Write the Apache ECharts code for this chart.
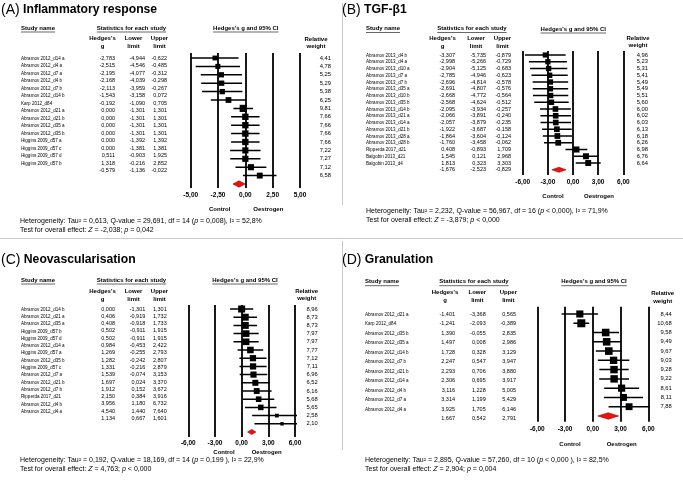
<!DOCTYPE html>
<html><head><meta charset="utf-8">
<script src="https://cdn.jsdelivr.net/npm/echarts@6/dist/echarts.min.js"></script>
<style>html,body{margin:0;padding:0;background:#fff}#c{width:683px;height:480px}</style>
</head><body><div id="c"></div>
<script>
// ---------- DATA ----------
const A_names = ['Abramov 2012_d14 a','Abramov 2012_d4 a','Abramov 2012_d7 a','Abramov 2012_d4 b','Abramov 2012_d7 b','Abramov 2012_d14 b','Karp 2012_d84','Abramov 2012_d21 a','Abramov 2012_d21 b','Abramov 2012_d35 a','Abramov 2012_d35 b','Higgins 2009_d57 a','Higgins 2009_d57 c','Higgins 2009_d57 d','Higgins 2009_d57 b'];
const A_g      = [-2.783,-2.515,-2.195,-2.168,-2.113,-1.543,-0.192,0,0,0,0,0,0,0.511,1.318];
const A_lower  = [-4.944,-4.546,-4.077,-4.039,-3.959,-3.158,-1.090,-1.301,-1.301,-1.301,-1.301,-1.392,-1.381,-0.903,-0.216];
const A_upper  = [-0.622,-0.485,-0.312,-0.298,-0.267,0.072,0.705,1.301,1.301,1.301,1.301,1.392,1.381,1.925,2.852];
const A_weight = [4.41,4.78,5.25,5.29,5.38,6.25,9.81,7.66,7.66,7.66,7.66,7.22,7.27,7.12,6.58];
const A_pooled = [-0.579,-1.136,-0.022];
const A_ticks  = [-5,-2.5,0,2.5,5];
const A_het  = 'Heterogeneity: Tau² = 0,613, Q-value = 29,691, df = 14 ({i|p} = 0,008), I² = 52,8%';
const A_test = 'Test for overall effect: {i|Z} = -2,038; {i|p} = 0,042';

const B_names = ['Abramov 2013_d4 b','Abramov 2013_d4 a','Abramov 2013_d10 a','Abramov 2013_d7 a','Abramov 2013_d7 b','Abramov 2013_d35 a','Abramov 2013_d10 b','Abramov 2013_d35 b','Abramov 2013_d14 b','Abramov 2013_d21 a','Abramov 2013_d14 a','Abramov 2013_d21 b','Abramov 2013_d28 a','Abramov 2013_d28 b','Ripperda 2017_d21','Balgobin 2013_d21','Balgobin 2013_d4'];
const B_g      = [-3.307,-2.998,-2.904,-2.785,-2.696,-2.691,-2.668,-2.568,-2.095,-2.066,-2.057,-1.922,-1.864,-1.760,0.408,1.545,1.813];
const B_lower  = [-5.735,-5.266,-5.125,-4.946,-4.814,-4.807,-4.772,-4.624,-3.934,-3.891,-3.879,-3.687,-3.604,-3.458,-0.893,0.121,0.323];
const B_upper  = [-0.879,-0.729,-0.683,-0.623,-0.578,-0.576,-0.564,-0.512,-0.257,-0.240,-0.235,-0.158,-0.124,-0.062,1.709,2.968,3.303];
const B_weight = [4.96,5.23,5.31,5.41,5.49,5.49,5.51,5.60,6.00,6.02,6.03,6.13,6.18,6.26,6.98,6.76,6.64];
const B_pooled = [-1.676,-2.523,-0.829];
const B_ticks  = [-6,-3,0,3,6];
const B_het  = 'Heterogeneity: Tau² = 2,232, Q-value = 56,967, df = 16 ({i|p} < 0,000), I² = 71,9%';
const B_test = 'Test for overall effect: {i|Z} = -3,879; {i|p} < 0,000';

const C_names = ['Abramov 2012_d14 b','Abramov 2012_d21 a','Abramov 2012_d35 a','Higgins 2009_d57 b','Higgins 2009_d57 d','Abramov 2012_d14 a','Higgins 2009_d57 a','Abramov 2012_d35 b','Higgins 2009_d57 c','Abramov 2012_d7 a','Abramov 2012_d21 b','Abramov 2012_d7 b','Ripperda 2017_d21','Abramov 2012_d4 b','Abramov 2012_d4 a'];
const C_g      = [0,0.406,0.408,0.502,0.502,0.984,1.269,1.282,1.331,1.539,1.697,1.912,2.150,3.956,4.540];
const C_lower  = [-1.301,-0.919,-0.918,-0.911,-0.911,-0.453,-0.255,-0.242,-0.216,-0.074,0.024,0.152,0.384,1.180,1.440];
const C_upper  = [1.301,1.732,1.733,1.915,1.915,2.422,2.793,2.807,2.879,3.153,3.370,3.672,3.916,6.732,7.640];
const C_weight = [8.96,8.73,8.73,7.97,7.97,7.77,7.12,7.11,6.96,6.52,6.16,5.68,5.65,2.58,2.10];
const C_pooled = [1.134,0.667,1.601];
const C_ticks  = [-6,-3,0,3,6];
const C_het  = 'Heterogeneity: Tau² = 0,192, Q-value = 18,169, df = 14 ({i|p} = 0,199 ), I² = 22,9%';
const C_test = 'Test for overall effect: {i|Z} = 4,763; {i|p} < 0,000';

const D_names = ['Abramov 2012_d21 a','Karp 2012_d84','Abramov 2012_d35 b','Abramov 2012_d35 a','Abramov 2012_d14 b','Abramov 2012_d7 b','Abramov 2012_d21 b','Abramov 2012_d14 a','Abramov 2012_d4 b','Abramov 2012_d7 a','Abramov 2012_d4 a'];
const D_g      = [-1.401,-1.241,1.390,1.497,1.728,2.247,2.293,2.306,3.116,3.314,3.925];
const D_lower  = [-3.368,-2.093,-0.055,0.008,0.328,0.547,0.706,0.695,1.228,1.199,1.705];
const D_upper  = [0.565,-0.389,2.835,2.986,3.129,3.947,3.880,3.917,5.005,5.429,6.146];
const D_weight = [8.44,10.68,9.58,9.49,9.67,9.03,9.28,9.22,8.61,8.11,7.88];
const D_pooled = [1.667,0.542,2.791];
const D_ticks  = [-6,-3,0,3,6];
const D_het  = 'Heterogeneity: Tau² = 2,895, Q-value = 57,260, df = 10 ({i|p} < 0,000 ), I² = 82,5%';
const D_test = 'Test for overall effect: {i|Z} = 2,904; {i|p} = 0,004';

// ---------- LAYOUT ----------
const FF = '"Liberation Sans", Arial, Helvetica, sans-serif';
const PANELS = [
  {label:'(A)', title:'Inflammatory response', names:A_names, g:A_g, lo:A_lower, up:A_upper, w:A_weight, pooled:A_pooled, ticks:A_ticks, het:A_het, test:A_test,
   L:{titleX:1, titleY:10, hdrY:28, sub1Y:38, sub2Y:46, nameX:21, gX:115, loX:145, upX:167, gC:102.5, loC:133.5, upC:159.5, statsC:131.5,
      tRow0:58, tDy:7.5, pxMin:190.7, pxMax:300, pRow0:58, pDy:8.4, lineTop:53, lineBot:188, labY:195, ctrlX:219.7, oesX:268.3, ctrlY:209,
      plotHdrC:245.8, plotHdrY:28, wC:316, wX:331, wH1:39, wH2:46.5, hetX:20, hetY:221, testY:230, k:2.3, dh:3.2}},
  {label:'(B)', title:'TGF-β1', names:B_names, g:B_g, lo:B_lower, up:B_upper, w:B_weight, pooled:B_pooled, ticks:B_ticks, het:B_het, test:B_test,
   L:{titleX:342, titleY:10, hdrY:28.5, sub1Y:38, sub2Y:46, nameX:366, gX:455, loX:486, upX:511, gC:442.5, loC:476, upC:502.5, statsC:472,
      tRow0:55, tDy:6.75, pxMin:522.7, pxMax:623.3, pRow0:55, pDy:6.75, lineTop:51, lineBot:175, labY:182, ctrlX:553, oesX:599, ctrlY:196,
      plotHdrC:573.3, plotHdrY:29, wC:638, wX:648, wH1:38.3, wH2:45.7, hetX:366, hetY:211, testY:220, k:2.3, dh:2.5}},
  {label:'(C)', title:'Neovascularisation', names:C_names, g:C_g, lo:C_lower, up:C_upper, w:C_weight, pooled:C_pooled, ticks:C_ticks, het:C_het, test:C_test,
   L:{titleX:1, titleY:260, hdrY:280, sub1Y:291, sub2Y:299, nameX:21, gX:115, loX:145.3, upX:166.7, gC:102.5, loC:133.5, upC:159.5, statsC:131.5,
      tRow0:309, tDy:7.3, pxMin:188.3, pxMax:295, pRow0:309, pDy:8.2, lineTop:305, lineBot:437, labY:443, ctrlX:224, oesX:266.7, ctrlY:452,
      plotHdrC:245, plotHdrY:280, wC:306.7, wX:317.7, wH1:291.7, wH2:298.7, hetX:20, hetY:460, testY:469, k:2.35, dh:2.6}},
  {label:'(D)', title:'Granulation', names:D_names, g:D_g, lo:D_lower, up:D_upper, w:D_weight, pooled:D_pooled, ticks:D_ticks, het:D_het, test:D_test,
   L:{titleX:342, titleY:260, hdrY:281.7, sub1Y:292.7, sub2Y:300, nameX:365, gX:455, loX:485.7, upX:516, gC:445, loC:477.3, upC:508.3, statsC:474,
      tRow0:314, tDy:9.5, pxMin:537.3, pxMax:648.3, pRow0:314, pDy:9.27, lineTop:306.7, lineBot:421.7, labY:429.3, ctrlX:570, oesX:621.7, ctrlY:444,
      plotHdrC:594, plotHdrY:281.7, wC:662.7, wX:671.7, wH1:293, wH2:301.7, hetX:365, hetY:460, testY:469, k:2.45, dh:3.2}}
];

const fmt = (v, d) => v.toFixed(d).replace('.', ',');
const mctx = document.createElement('canvas').getContext('2d');
function textW(t, size, weight) { mctx.font = (weight||'normal') + ' ' + size + 'px ' + FF; return mctx.measureText(t).width; }

const grids = [], xAxes = [], yAxes = [], series = [], graphics = [];
const T = (x, y, text, o) => graphics.push(Object.assign({type:'text', x, y, silent:true,
  style:Object.assign({text, fontFamily:FF, fontSize:6, fill:'#000', align:'left', verticalAlign:'middle'}, o||{})}));
const Ln = (x1, y1, x2, y2, color, w) => graphics.push({type:'line', silent:true, shape:{x1, y1, x2, y2}, style:{stroke:color||'#000', lineWidth:w||0.6}});
function underlinedCentered(cx, y, text) {
  T(cx, y, text, {fontWeight:'bold', align:'center'});
  const w = textW(text, 6, 'bold'); Ln(cx - w/2, y + 4, cx + w/2, y + 4);
}

PANELS.forEach((P, p) => {
  const L = P.L, n = P.names.length;
  // table grid (pixel x units, row-index y units)
  const tg = grids.length;
  grids.push({left:0, width:683, top:L.tRow0 - L.tDy/2, height:(n + 1) * L.tDy});
  xAxes.push({gridIndex:tg, type:'value', min:0, max:683, show:false});
  yAxes.push({gridIndex:tg, type:'value', min:-0.5, max:n + 0.5, inverse:true, show:false});
  const tData = P.names.map((_, i) => [L.gX, i, P.g[i], P.lo[i], P.up[i]]);
  tData.push([L.gX, n, P.pooled[0], P.pooled[1], P.pooled[2]]);
  series.push({type:'custom', xAxisIndex:tg, yAxisIndex:tg, data:tData, encode:{x:0, y:1}, silent:true,
    renderItem:(params, api) => {
      const i = api.value(1);
      const y = api.coord([0, i])[1];
      const ch = [];
      if (i < n) ch.push({type:'text', x:L.nameX, y, scaleX:0.76, style:{text:P.names[i], fontFamily:FF, fontSize:6, fill:'#000', align:'left', verticalAlign:'middle'}});
      [[2, L.gX], [3, L.loX], [4, L.upX]].forEach(([k, x]) =>
        ch.push({type:'text', x:api.coord([x, i])[0], y, style:{text:fmt(api.value(k), 3), fontFamily:FF, fontSize:5.5, fill:'#000', align:'right', verticalAlign:'middle'}}));
      return {type:'group', children:ch};
    }});

  // plot grid
  const pg = grids.length;
  const xmin = P.ticks[0], xmax = P.ticks[P.ticks.length - 1];
  grids.push({left:L.pxMin, width:L.pxMax - L.pxMin, top:L.lineTop, height:L.lineBot - L.lineTop});
  xAxes.push({gridIndex:pg, type:'value', min:xmin, max:xmax, interval:P.ticks[1] - P.ticks[0],
    axisLine:{show:false}, axisTick:{show:false},
    splitLine:{show:true, lineStyle:{color:'#000', width:1.8}},
    axisLabel:{fontFamily:FF, fontSize:6.5, fontWeight:'bold', color:'#000', margin:L.labY - L.lineBot - 3.5, formatter:v => fmt(v, 2)}});
  yAxes.push({gridIndex:pg, type:'value', inverse:true, show:false,
    min:-(L.pRow0 - L.lineTop) / L.pDy, max:(L.lineBot - L.pRow0) / L.pDy});

  // confidence-interval whiskers: one small line series per study (clipped to the axis range)
  P.names.forEach((_, i) => {
    series.push({type:'line', xAxisIndex:pg, yAxisIndex:pg, silent:true, z:5, clip:true,
      symbol:'none', showSymbol:false, animation:false,
      lineStyle:{color:'#000', width:1.5, opacity:1}, itemStyle:{color:'#000'},
      data:[[P.lo[i], i], [P.up[i], i]]});
  });

  const pData = P.names.map((_, i) => [P.g[i], i, P.lo[i], P.up[i], P.w[i]]);
  pData.push([P.pooled[0], n, P.pooled[1], P.pooled[2], 0]);
  // squares, weights, diamond
  series.push({type:'custom', xAxisIndex:pg, yAxisIndex:pg, data:pData, encode:{x:0, y:1}, silent:true, z:6,
    renderItem:(params, api) => {
      const g = api.value(0), i = api.value(1), lo = api.value(2), up = api.value(3), w = api.value(4);
      const c = api.coord([g, i]);
      const a = api.coord([Math.max(lo, xmin), i]);
      const b = api.coord([Math.min(up, xmax), i]);
      if (i === n) {
        return {type:'polygon', shape:{points:[[a[0], c[1]], [c[0], c[1] - L.dh], [b[0], c[1]], [c[0], c[1] + L.dh]]},
          style:{fill:'#f01010', stroke:'#9a0000', lineWidth:0.6}};
      }
      const s = L.k * Math.sqrt(w);
      return {type:'group', children:[
        {type:'rect', shape:{x:c[0] - s/2, y:c[1] - s/2, width:s, height:s}, style:{fill:'#000'}},
        {type:'text', x:L.wX, y:c[1], style:{text:fmt(w, 2), fontFamily:FF, fontSize:5.8, fill:'#000', align:'right', verticalAlign:'middle'}}
      ]};
    }});

  // texts
  graphics.push({type:'text', x:L.titleX, y:L.titleY, silent:true, style:{
    text:'{r|' + P.label + '} {b|' + P.title + '}', fontFamily:FF, fontSize:12.2, fill:'#000', verticalAlign:'middle',
    rich:{r:{fontFamily:FF, fontSize:14, fill:'#000'}, b:{fontFamily:FF, fontSize:12.2, fontWeight:'bold', fill:'#000'}}}});
  T(L.nameX, L.hdrY, 'Study name', {fontWeight:'bold'});
  Ln(L.nameX, L.hdrY + 4, L.nameX + textW('Study name', 6, 'bold'), L.hdrY + 4);
  underlinedCentered(L.statsC, L.hdrY, 'Statistics for each study');
  T(L.gC, L.sub1Y, "Hedges's", {fontWeight:'bold', align:'center'});
  T(L.gC, L.sub2Y, 'g', {fontWeight:'bold', align:'center'});
  T(L.loC, L.sub1Y, 'Lower', {fontWeight:'bold', align:'center'});
  T(L.loC, L.sub2Y, 'limit', {fontWeight:'bold', align:'center'});
  T(L.upC, L.sub1Y, 'Upper', {fontWeight:'bold', align:'center'});
  T(L.upC, L.sub2Y, 'limit', {fontWeight:'bold', align:'center'});
  underlinedCentered(L.plotHdrC, L.plotHdrY, "Hedges's g and 95% CI");
  T(L.wC, L.wH1, 'Relative', {fontWeight:'bold', align:'center'});
  T(L.wC, L.wH2, 'weight', {fontWeight:'bold', align:'center'});
  T(L.ctrlX, L.ctrlY, 'Control', {fontWeight:'bold', align:'center'});
  T(L.oesX, L.ctrlY, 'Oestrogen', {fontWeight:'bold', align:'center'});
  const rich = {i:{fontFamily:FF, fontSize:7, fontStyle:'italic', fill:'#000'}};
  T(L.hetX, L.hetY, P.het, {fontSize:7, rich});
  T(L.hetX, L.testY, P.test, {fontSize:7, rich});
});

// panel separators
Ln(0, 238.5, 683, 238.5, '#c8c8c8', 1);
Ln(342.5, 3, 342.5, 205, '#c8c8c8', 1);
Ln(342.5, 241, 342.5, 450, '#c8c8c8', 1);

const chart = echarts.init(document.getElementById('c'), null, {renderer:'canvas'});
chart.setOption({animation:false, backgroundColor:'#fff', grid:grids, xAxis:xAxes, yAxis:yAxes, series, graphic:graphics});
</script></body></html>
